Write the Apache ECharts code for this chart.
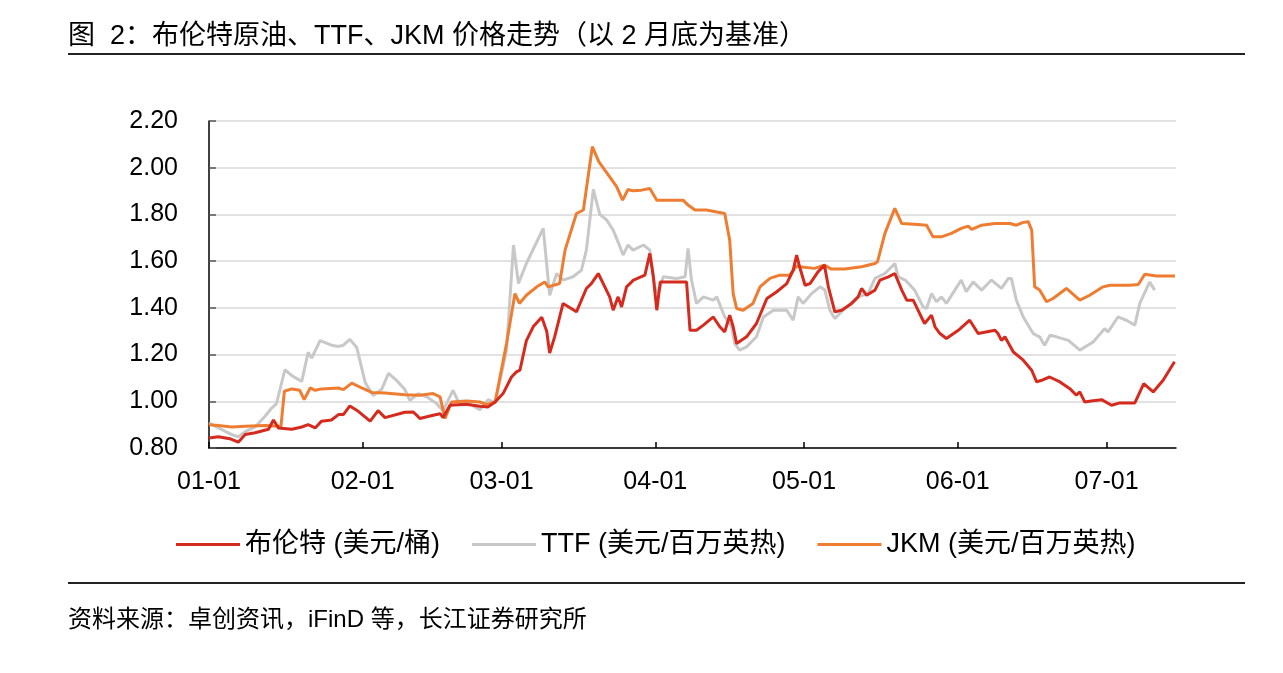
<!DOCTYPE html>
<html>
<head>
<meta charset="utf-8">
<script src="https://cdn.jsdelivr.net/npm/echarts@6/dist/echarts.min.js"></script>
<style>
html, body { margin: 0; padding: 0; background: #fff; }
#chart { width: 1283px; height: 673px; }
</style>
</head>
<body>
<div id="chart"></div>
<script>
// days counted from 2022-01-01, values relative to end of February
var brentDay = [0, 1.9, 4.2, 5.9, 7.3, 9.3, 12, 13, 14, 16.7, 18.7, 20, 21.4, 22.7, 24.7, 26.1, 27.1, 28.4, 30.1, 32.5, 34.1, 35.5, 39.5,
  41.2, 41.9, 42.5, 45.2, 46.6, 47.2, 48.6, 51.9, 54.6, 56.3, 57.7, 59.3, 61, 62, 62.7, 64, 65.4, 67.1, 68.1, 68.7, 69.7, 71.4, 74.1, 76.1, 77.1, 78.5,
  80.8, 81.5, 82.5, 83.2, 84.2, 85.6, 87.9, 88.9, 89.6, 90.3, 91, 96.3, 97, 98.3, 99.7, 101.7, 103, 104, 105, 105.7, 106.4, 108.4, 110.4, 112.5, 114.5, 116.5, 117.8, 118.5,
  119.1, 120.2, 121.2, 122.8, 124.1, 124.9, 126.2, 127.6, 129.6, 130.9, 131.6, 132.6, 134.3, 135.3, 137, 138.3, 139.7, 140.7, 142, 143.3, 144.3, 145.7, 146.4, 147.4, 148.7, 151.1, 153.4, 155.1, 158.5,
  159.1, 159.8, 160.5, 162.2, 164.2, 165.9, 166.9, 167.9, 169.5, 171.6, 173.6, 174.9, 175.6, 176.6, 177.9, 180, 182, 183.7, 186.7, 188.5, 190.4, 192.4, 194.7];
var brentValue = [0.843, 0.848, 0.84, 0.825, 0.858, 0.865, 0.88, 0.92, 0.886, 0.88, 0.89, 0.9, 0.886, 0.915, 0.92, 0.943, 0.943, 0.98, 0.957, 0.915, 0.96, 0.93, 0.953,
  0.954, 0.94, 0.926, 0.94, 0.947, 0.93, 0.983, 0.987, 0.979, 0.976, 0.997, 1.033, 1.104, 1.126, 1.133, 1.26, 1.32, 1.36, 1.3, 1.207, 1.276, 1.419, 1.383, 1.483, 1.504, 1.547,
  1.447, 1.39, 1.447, 1.404, 1.49, 1.519, 1.54, 1.633, 1.533, 1.39, 1.511, 1.511, 1.304, 1.304, 1.326, 1.361, 1.319, 1.297, 1.369, 1.319, 1.247, 1.276, 1.333, 1.44, 1.469, 1.504, 1.561, 1.626,
  1.576, 1.497, 1.504, 1.554, 1.583, 1.49, 1.383, 1.39, 1.419, 1.447, 1.483, 1.454, 1.476, 1.519, 1.533, 1.547, 1.476, 1.433, 1.433, 1.376, 1.333, 1.369, 1.319, 1.29, 1.269, 1.304, 1.347, 1.29, 1.304,
  1.29, 1.261, 1.276, 1.211, 1.176, 1.133, 1.083, 1.09, 1.104, 1.083, 1.054, 1.026, 1.04, 0.997, 1.001, 1.007, 0.983, 0.993, 0.993, 1.076, 1.04, 1.09, 1.169];

var ttfDay = [0, 1.9, 4.6, 5.9, 7.3, 9.3, 11.3, 12.6, 13.6, 15.3, 16.7, 18.7, 20, 20.7, 22.4, 24.7, 26.1, 27.1, 28.4, 29.8, 31.5, 33.1, 34.8, 36.2, 37.8, 39.5,
  40.5, 42.2, 43.9, 45.9, 47.2, 49.2, 50.3, 51.9, 54.6, 56.3, 57.7, 60, 61.4, 62.4, 64, 67.4, 68.7, 70.1, 71.4, 73.4, 75.1, 76.1, 77.5, 78.8,
  80.2, 81.5, 82.9, 83.5, 84.5, 85.5, 87.6, 88.9, 89.9, 90.6, 91.6, 94.3, 96, 96.6, 97.3, 98.3, 99.7, 101.7, 102.4, 104, 105.4, 106, 107, 108.4, 110.4, 111.8, 113.8, 116.5, 117.8, 118.8,
  119.8, 121.5, 123.2, 124.2, 125.2, 126.2, 128.2, 130.9, 132.9, 134.3, 136.3, 138.3, 139, 140.4, 142.3, 144, 144.7, 145.7, 146.7, 147.7, 148.7, 150.4, 151.7, 152.7, 154.1, 155.8, 157.8,
  159.8, 161.2, 161.8, 162.8, 164.2, 166.2, 167.5, 168.5, 169.6, 170.9, 173.3, 175.6, 178.3, 180.6, 181.3, 183.3, 185, 186.7, 187.7, 189.7, 190.7];
var ttfValue = [0.907, 0.886, 0.857, 0.848, 0.87, 0.89, 0.936, 0.97, 0.99, 1.135, 1.11, 1.085, 1.21, 1.185, 1.26, 1.24, 1.235, 1.24, 1.265, 1.23, 1.08, 1.025, 1.05, 1.12, 1.09, 1.05,
  1.004, 1.033, 1.019, 0.99, 0.96, 1.047, 0.997, 0.997, 0.964, 1.007, 0.993, 1.219, 1.669, 1.504, 1.59, 1.74, 1.454, 1.547, 1.519, 1.533, 1.561, 1.647, 1.907, 1.8,
  1.776, 1.733, 1.661, 1.626, 1.669, 1.647, 1.669, 1.647, 1.49, 1.461, 1.533, 1.526, 1.533, 1.654, 1.519, 1.419, 1.447, 1.433, 1.447, 1.361, 1.319, 1.247, 1.219, 1.233, 1.276, 1.361, 1.39, 1.39, 1.347, 1.447,
  1.419, 1.461, 1.49, 1.476, 1.39, 1.354, 1.397, 1.447, 1.461, 1.526, 1.547, 1.59, 1.533, 1.519, 1.476, 1.404, 1.397, 1.461, 1.426, 1.447, 1.419, 1.476, 1.519, 1.469, 1.511, 1.476, 1.519,
  1.483, 1.526, 1.526, 1.433, 1.361, 1.29, 1.276, 1.24, 1.283, 1.276, 1.261, 1.219, 1.254, 1.311, 1.297, 1.361, 1.347, 1.326, 1.419, 1.511, 1.476];

var jkmDay = [0, 1.9, 4.6, 7.3, 11.3, 14, 14.5, 15.2, 16.7, 18.3, 19.2, 20.4, 21.4, 22.7, 26.1, 27.1, 28.8, 30.8, 32.8, 35.5, 39.5,
  42.5, 45.2, 46.6, 47.6, 48.9, 51.9, 54.6, 56, 57.7, 60, 61.7, 62.6, 64, 66.1, 67.7, 68.4, 70.7, 71.8, 74.1, 75.5, 77.3, 78.6,
  80.8, 82.2, 83.4, 84.5, 85.5, 87.2, 88.9, 90.3, 95.6, 96.6, 98, 100.3, 104, 105, 105.7, 106.4, 107.7, 109.7, 111.1, 113.1, 115.1, 117.1, 118.5,
  119.1, 122.1, 124.1, 125.5, 128.2, 131.6, 134.3, 134.8, 136.3, 138.3, 139.7, 143, 144.7, 146, 147.7, 149.7, 151.7, 153.1, 153.8, 155.8, 158.5,
  161.5, 162.8, 164.2, 165.2, 165.9, 166.5, 167.5, 168.9, 170.2, 172.9, 175.6, 177.6, 180.3, 181.7, 185.7, 187.4, 188.7, 191.1, 194.8];
var jkmValue = [0.9, 0.896, 0.89, 0.893, 0.896, 0.893, 0.89, 1.043, 1.053, 1.047, 1.007, 1.057, 1.047, 1.053, 1.057, 1.05, 1.078, 1.057, 1.038, 1.035, 1.028,
  1.026, 1.033, 1.019, 0.926, 0.997, 1.001, 0.997, 0.987, 0.997, 1.247, 1.461, 1.419, 1.454, 1.49, 1.511, 1.49, 1.504, 1.647, 1.804, 1.819, 2.09, 2.026,
  1.961, 1.919, 1.861, 1.907, 1.901, 1.904, 1.911, 1.861, 1.861, 1.84, 1.819, 1.819, 1.804, 1.69, 1.461, 1.397, 1.39, 1.419, 1.49, 1.526, 1.54, 1.54, 1.58,
  1.576, 1.569, 1.583, 1.566, 1.566, 1.576, 1.59, 1.597, 1.719, 1.826, 1.761, 1.757, 1.754, 1.704, 1.704, 1.719, 1.74, 1.75, 1.736, 1.754, 1.761,
  1.761, 1.754, 1.766, 1.769, 1.733, 1.49, 1.476, 1.426, 1.44, 1.483, 1.433, 1.454, 1.49, 1.497, 1.497, 1.5, 1.544, 1.536, 1.536];

var seriesNames = ['布伦特 (美元/桶)', 'TTF (美元/百万英热)', 'JKM (美元/百万英热)'];
var yTicks = [0.8, 1.0, 1.2, 1.4, 1.6, 1.8, 2.0, 2.2];

var DAY = 86400000;
var t0 = new Date(2022, 0, 1).getTime();
function pairs(days, vals) {
  var out = [];
  for (var i = 0; i < days.length; i++) {
    out.push([t0 + days[i] * DAY, vals[i]]);
  }
  return out;
}

var FONT = 'Liberation Sans, Arial, Noto Sans CJK SC, sans-serif';
var chart = echarts.init(document.getElementById('chart'));
chart.setOption({
  animation: false,
  backgroundColor: '#fff',
  textStyle: { fontFamily: FONT },
  graphic: [
    { type: 'text', left: 68, top: 23, style: { text: '图  2：布伦特原油、TTF、JKM 价格走势（以 2 月底为基准）', fontSize: 27, fontFamily: FONT, fill: '#000' } },
    { type: 'rect', left: 68, top: 53, shape: { width: 1177, height: 2 }, style: { fill: '#222' } },
    { type: 'rect', left: 68, top: 582, shape: { width: 1177, height: 2 }, style: { fill: '#222' } },
    { type: 'text', left: 68, top: 608, style: { text: '资料来源：卓创资讯，iFinD 等，长江证券研究所', fontSize: 24, fontFamily: FONT, fill: '#000' } }
  ],
  grid: { left: 209, right: 107, top: 121, bottom: 225 },
  legend: {
    left: 171,
    top: 526,
    itemWidth: 64,
    itemHeight: 3,
    itemGap: 32,
    icon: 'rect',
    textStyle: { fontSize: 27, color: '#000', fontFamily: FONT },
    data: seriesNames
  },
  xAxis: {
    type: 'time',
    min: t0,
    max: t0 + 195 * DAY,
    splitNumber: 7,
    maxInterval: 32 * DAY,
    axisLine: { lineStyle: { color: '#000', width: 1.5 } },
    axisTick: { show: true, inside: true, length: 6, lineStyle: { color: '#000', width: 1.5 } },
    axisLabel: { formatter: '{MM}-{dd}', fontSize: 25, color: '#000', margin: 22, showMinLabel: true, fontFamily: FONT },
    splitLine: { show: false }
  },
  yAxis: {
    type: 'value',
    min: yTicks[0],
    max: yTicks[yTicks.length - 1],
    interval: 0.2,
    axisLine: { show: true, lineStyle: { color: '#000', width: 1.5 } },
    axisTick: { show: true, inside: true, length: 7, lineStyle: { color: '#555', width: 1.5 } },
    axisLabel: { formatter: function (v) { return v.toFixed(2); }, fontSize: 25, color: '#000', margin: 31, fontFamily: FONT },
    splitLine: { lineStyle: { color: '#d9d9d9', width: 1.5 } }
  },
  series: [
    { name: seriesNames[0], type: 'line', data: pairs(brentDay, brentValue), showSymbol: false, z: 4,
      lineStyle: { color: '#d52b1e', width: 3 }, itemStyle: { color: '#d52b1e' } },
    { name: seriesNames[1], type: 'line', data: pairs(ttfDay, ttfValue), showSymbol: false, z: 2,
      lineStyle: { color: '#c8c8c8', width: 3 }, itemStyle: { color: '#c8c8c8' } },
    { name: seriesNames[2], type: 'line', data: pairs(jkmDay, jkmValue), showSymbol: false, z: 3,
      lineStyle: { color: '#ee7d31', width: 3 }, itemStyle: { color: '#ee7d31' } }
  ]
});
</script>
</body>
</html>
